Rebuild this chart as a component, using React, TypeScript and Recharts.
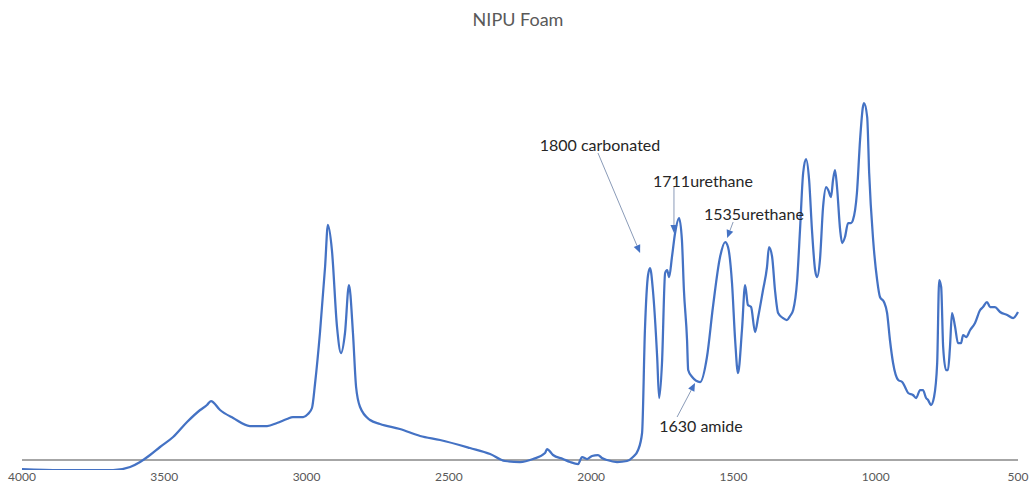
import { LineChart, Line, XAxis, YAxis, ReferenceLine, ReferenceDot } from 'recharts'

// FTIR spectrum (wavenumber, cm-1 -> absorbance, arbitrary units)
const wavenumbers = [
  4000, 3866, 3680, 3620, 3585, 3550, 3515, 3469, 3420, 3374, 3350, 3336, 3304, 3258, 3199, 3139,
  3104, 3069, 3048, 3012, 2995, 2981, 2970, 2953, 2935, 2925, 2911, 2893, 2879, 2865, 2851, 2837,
  2826, 2812, 2777, 2742, 2672, 2601, 2531, 2426, 2355, 2303, 2250, 2204, 2162, 2155, 2134, 2099,
  2074, 2046, 2032, 2014, 1997, 1976, 1962, 1944, 1909, 1874, 1853, 1835, 1821, 1811, 1800, 1793,
  1783, 1768, 1761, 1751, 1740, 1733, 1726, 1716, 1705, 1691, 1681, 1674, 1663, 1659, 1645, 1617,
  1593, 1572, 1547, 1529, 1519, 1505, 1494, 1484, 1470, 1459, 1449, 1438, 1424, 1413, 1396, 1382,
  1375, 1364, 1354, 1343, 1326, 1312, 1301, 1290, 1276, 1266, 1255, 1245, 1234, 1224, 1213, 1206,
  1196, 1185, 1174, 1167, 1157, 1150, 1143, 1136, 1125, 1118, 1108, 1097, 1087, 1080, 1066, 1055,
  1045, 1041, 1030, 1023, 1009, 995, 985, 971, 960, 950, 939, 921, 907, 897, 886, 869,
  858, 844, 834, 823, 816, 806, 795, 784, 777, 770, 763, 753, 746, 739, 732, 721,
  711, 700, 693, 682, 668, 651, 633, 623, 609, 598, 581, 563, 538, 517, 500,
]

const absorbance = [
  -0.009, -0.010, -0.010, -0.007, -0.002, 0.005, 0.013, 0.023, 0.038, 0.050, 0.055, 0.059, 0.050, 0.042, 0.034, 0.034,
  0.037, 0.041, 0.043, 0.043, 0.046, 0.052, 0.077, 0.127, 0.193, 0.235, 0.210, 0.133, 0.107, 0.127, 0.175, 0.127,
  0.073, 0.053, 0.040, 0.036, 0.031, 0.024, 0.020, 0.012, 0.006, -0.001, -0.002, 0.001, 0.007, 0.011, 0.005, 0.001,
  -0.002, -0.004, 0.003, 0.001, 0.004, 0.005, 0.002, 0.000, -0.002, -0.001, 0.003, 0.010, 0.027, 0.130, 0.185, 0.192,
  0.170, 0.103, 0.062, 0.097, 0.187, 0.190, 0.183, 0.203, 0.227, 0.242, 0.220, 0.170, 0.120, 0.090, 0.083, 0.078,
  0.103, 0.153, 0.203, 0.218, 0.213, 0.177, 0.120, 0.087, 0.130, 0.175, 0.155, 0.153, 0.128, 0.143, 0.170, 0.193,
  0.213, 0.203, 0.170, 0.147, 0.142, 0.140, 0.144, 0.150, 0.180, 0.230, 0.287, 0.301, 0.280, 0.230, 0.190, 0.183,
  0.200, 0.253, 0.273, 0.270, 0.263, 0.280, 0.290, 0.273, 0.230, 0.217, 0.223, 0.237, 0.237, 0.240, 0.267, 0.320,
  0.353, 0.357, 0.343, 0.287, 0.220, 0.180, 0.163, 0.158, 0.147, 0.120, 0.097, 0.080, 0.078, 0.073, 0.067, 0.065,
  0.062, 0.070, 0.070, 0.062, 0.060, 0.055, 0.063, 0.097, 0.180, 0.173, 0.113, 0.090, 0.090, 0.113, 0.147, 0.133,
  0.117, 0.117, 0.125, 0.123, 0.130, 0.137, 0.150, 0.153, 0.158, 0.153, 0.153, 0.148, 0.145, 0.142, 0.148,
]

const xTicks = [4000, 3500, 3000, 2500, 2000, 1500, 1000, 500]

// annotation text anchor + arrow tail/tip, all in data coordinates
const notes = [
  { text: '1800 carbonated', tx: 1969, ty: 0.315, from: [1976, 0.307], to: [1828, 0.207] },
  { text: '1711urethane', tx: 1607, ty: 0.279, from: [1709, 0.273], to: [1709, 0.227] },
  { text: '1535urethane', tx: 1428, ty: 0.246, from: [1501, 0.238], to: [1522, 0.222] },
  { text: '1630 amide', tx: 1614, ty: 0.034, from: [1698, 0.043], to: [1635, 0.077] },
]

const data = wavenumbers.map((wn, i) => ({ wn, abs: absorbance[i] }))

const font = 'Lato, "Open Sans", sans-serif'

function Arrow(props: any) {
  const { x1, y1, x2, y2 } = props
  const dx = x2 - x1
  const dy = y2 - y1
  const len = Math.sqrt(dx * dx + dy * dy) || 1
  const ux = dx / len
  const uy = dy / len
  const head = 8
  const half = 3.5
  const bx = x2 - ux * head
  const by = y2 - uy * head
  const pts = [
    `${x2},${y2}`,
    `${bx - uy * half},${by + ux * half}`,
    `${bx + uy * half},${by - ux * half}`,
  ].join(' ')
  return (
    <g>
      <line x1={x1} y1={y1} x2={bx} y2={by} stroke="#8a9bb8" strokeWidth={1} />
      <polygon points={pts} fill="#4472C4" />
    </g>
  )
}

export default function App() {
  return (
    <div style={{ position: 'absolute', left: 0, top: 0, width: 1032, height: 485, background: '#fff' }}>
      <div
        style={{
          position: 'absolute',
          top: 8,
          left: 0,
          width: 1036,
          textAlign: 'center',
          fontFamily: font,
          fontSize: 18,
          lineHeight: '22px',
          color: '#595959',
        }}
      >
        NIPU Foam
      </div>
      <LineChart
        width={1032}
        height={485}
        data={data}
        margin={{ top: 61, right: 14, left: 22, bottom: 0 }}
      >
        <XAxis
          dataKey="wn"
          type="number"
          domain={[500, 4000]}
          reversed
          ticks={xTicks}
          interval={0}
          axisLine={false}
          tickLine={false}
          tickSize={2}
          tickMargin={0}
          height={15}
          tick={{ fill: '#595959', fontSize: 12, fontFamily: font }}
        />
        <YAxis hide domain={[-0.01, 0.399]} allowDataOverflow />
        <ReferenceLine y={0} stroke="#a6a6a6" strokeWidth={2} />
        <Line
          type="monotone"
          dataKey="abs"
          stroke="#4472C4"
          strokeWidth={2.25}
          dot={false}
          isAnimationActive={false}
        />
        {notes.map((n) => (
          <ReferenceLine
            key={`arrow-${n.text}`}
            segment={[
              { x: n.from[0], y: n.from[1] },
              { x: n.to[0], y: n.to[1] },
            ]}
            shape={Arrow}
          />
        ))}
        {notes.map((n) => (
          <ReferenceDot
            key={`note-${n.text}`}
            x={n.tx}
            y={n.ty}
            r={0}
            fill="none"
            stroke="none"
            label={{ value: n.text, position: 'center', fill: '#262626', fontSize: 16, fontFamily: font }}
          />
        ))}
      </LineChart>
    </div>
  )
}
